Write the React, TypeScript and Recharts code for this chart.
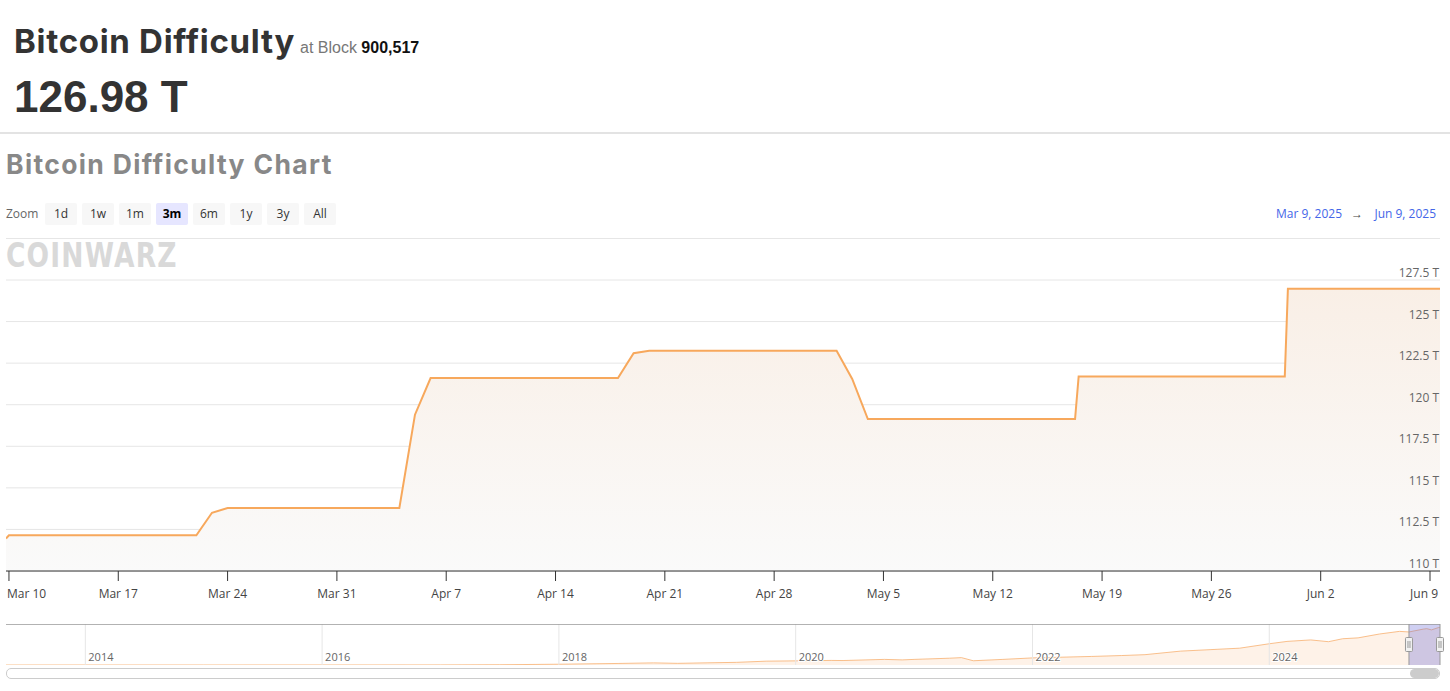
import React from 'react';
import { AreaChart, Area, XAxis, YAxis, CartesianGrid, ReferenceLine, ReferenceArea } from 'recharts';

// ---- Main chart data (days since Mar 9, 2025 00:00) ----
const DAYS = [0.81, 1, 13, 14, 15, 26, 27, 28, 40, 41, 42, 54, 55, 56, 69.27, 69.5, 82.7, 82.9, 92.64];
const DIFFICULTY_T = [111.95, 112.15, 112.15, 113.5, 113.79, 113.79, 119.4, 121.6, 121.6, 123.1, 123.25, 123.25, 121.55, 119.14, 119.14, 121.7, 121.7, 126.98, 126.98];
const X_DOMAIN = [0.81, 92.64];
const X_TICK_DAYS = [1, 8, 15, 22, 29, 36, 43, 50, 57, 64, 71, 78, 85, 92];
const X_TICK_LABELS = ['Mar 10', 'Mar 17', 'Mar 24', 'Mar 31', 'Apr 7', 'Apr 14', 'Apr 21', 'Apr 28', 'May 5', 'May 12', 'May 19', 'May 26', 'Jun 2', 'Jun 9'];
const Y_TICKS = [110, 112.5, 115, 117.5, 120, 122.5, 125, 127.5];

// ---- Navigator data (fractional years) ----
const NAV_YEARS = [2013.33, 2014.0, 2015.0, 2016.0, 2017.0, 2017.5, 2018.0, 2018.5, 2018.8, 2019.0, 2019.5, 2019.75, 2020.0, 2020.3, 2020.4, 2020.75, 2020.9, 2021.0, 2021.3, 2021.4, 2021.5, 2021.75, 2022.0, 2022.3, 2022.5, 2022.75, 2022.95, 2023.25, 2023.5, 2023.75, 2024.0, 2024.15, 2024.35, 2024.5, 2024.62, 2024.75, 2024.93, 2025.1, 2025.18, 2025.3, 2025.33, 2025.37, 2025.43, 2025.442];
const NAV_DIFFICULTY_T = [0, 0.002, 0.04, 0.1, 0.3, 0.9, 2.6, 5.2, 7.2, 5.6, 9, 13, 14, 15.5, 15.1, 19, 17.3, 19, 23, 25, 14.4, 19, 24, 27, 29, 32, 35, 47, 52, 57, 72, 80, 85, 79, 89, 92, 105, 114, 112, 121.6, 123.2, 119, 127, 127];
const NAV_DOMAIN = [2013.33, 2025.442];
const NAV_YEAR_TICKS = [2014, 2016, 2018, 2020, 2022, 2024];
const RANGE_START_YEAR = 2025.18;
const RANGE_END_YEAR = 2025.442;

const ZOOM_BUTTONS = ['1d', '1w', '1m', '3m', '6m', '1y', '3y', 'All'];
const SELECTED_ZOOM = '3m';

const mainData = DAYS.map((d, i) => ({ day: d, value: DIFFICULTY_T[i] }));
const navData = NAV_YEARS.map((y, i) => ({ year: y, value: NAV_DIFFICULTY_T[i] }));

const W = 1450;
const UI_FONT = '"Open Sans", "Noto Sans", sans-serif';
const TITLE_FONT = 'Inter, "Noto Sans", sans-serif';
const ARIAL = '"Liberation Sans", Arial, sans-serif';
const MAIN_MARGIN = { top: 40, right: 9, bottom: 0, left: 6 };
const PLOT_RIGHT = 1440;

const XTick = (props: any) => {
  const { x, y, payload } = props;
  const idx = X_TICK_DAYS.indexOf(payload.value);
  const label = idx >= 0 ? X_TICK_LABELS[idx] : '';
  let anchor: any = 'middle';
  let tx = x;
  if (idx === 0) { anchor = 'start'; tx = x - 2; }
  if (idx === X_TICK_DAYS.length - 1) { anchor = 'end'; tx = x + 8; }
  return (
    <text x={tx} y={y} dy="0.71em" textAnchor={anchor} fill="#444" fontSize={12} fontFamily={UI_FONT}>
      {label}
    </text>
  );
};

const YTick = (props: any) => {
  const { y, payload } = props;
  return (
    <text x={PLOT_RIGHT - 1} y={y - 3} textAnchor="end" fill="#666" fontSize={12} fontFamily={UI_FONT}>
      {`${payload.value} T`}
    </text>
  );
};

const yearLabel = (label: string) => (props: any) => {
  const vb = props.viewBox || {};
  return (
    <text
      x={vb.x + 3}
      y={vb.y + vb.height - 4}
      fill="#666"
      fontSize={11}
      fontFamily={UI_FONT}
      stroke="#fff"
      strokeWidth={2}
      paintOrder="stroke"
    >
      {label}
    </text>
  );
};

const handleLabel = (props: any) => {
  const vb = props.viewBox || {};
  const cx = vb.x;
  const cy = vb.y + vb.height / 2;
  return (
    <g>
      <rect x={cx - 3.5} y={cy - 7} width={7} height={14} fill="#f2f2f2" stroke="#999" strokeWidth={1} rx={1} />
      <line x1={cx - 1} y1={cy - 3.5} x2={cx - 1} y2={cy + 3.5} stroke="#999" strokeWidth={1} />
      <line x1={cx + 1} y1={cy - 3.5} x2={cx + 1} y2={cy + 3.5} stroke="#999" strokeWidth={1} />
    </g>
  );
};

export default function App() {
  return (
    <div style={{ position: 'absolute', left: 0, top: 0, width: W, height: 691, background: '#fff', overflow: 'hidden' }}>
      {/* Header */}
      <svg width={W} height={280} style={{ position: 'absolute', left: 0, top: 0 }}>
        <text x={14} y={53} fontFamily={TITLE_FONT} fontWeight={700} fontSize={33} fill="#333" letterSpacing={0.7}>
          Bitcoin Difficulty
        </text>
        <text x={300} y={53} fontFamily={ARIAL} fontSize={16}>
          <tspan fill="#777">at Block </tspan>
          <tspan fill="#111" fontWeight={700}>900,517</tspan>
        </text>
        <text x={14} y={112} fontFamily={ARIAL} fontWeight={700} fontSize={44} fill="#333">
          126.98 T
        </text>
        <rect x={0} y={132} width={W} height={2} fill="#e3e3e3" />
        <text x={6} y={174} fontFamily={TITLE_FONT} fontWeight={700} fontSize={26.5} fill="#888" letterSpacing={1.35}>
          Bitcoin Difficulty Chart
        </text>
        <text x={6} y={218} fontFamily={UI_FONT} fontSize={12} fill="#666">Zoom</text>
        {ZOOM_BUTTONS.map((b, i) => {
          const bx = 45 + i * 37;
          const sel = b === SELECTED_ZOOM;
          return (
            <g key={b}>
              <rect x={bx} y={203} width={32} height={22} rx={2} fill={sel ? '#e6e6ff' : '#f7f7f7'} />
              <text x={bx + 16} y={218} textAnchor="middle" fontFamily={UI_FONT} fontSize={12} fontWeight={sel ? 700 : 400} fill={sel ? '#000' : '#333'}>
                {b}
              </text>
            </g>
          );
        })}
        <text x={1276} y={218} fontFamily={UI_FONT} fontSize={12} fill="#4466e8">Mar 9, 2025</text>
        <text x={1357} y={218} textAnchor="middle" fontFamily={UI_FONT} fontSize={12} fill="#444">→</text>
        <text x={1436} y={218} textAnchor="end" fontFamily={UI_FONT} fontSize={12} fill="#4466e8">Jun 9, 2025</text>
        <rect x={6} y={238} width={1434} height={1} fill="#e6e6e6" />
        <text
          x={6}
          y={267}
          fontFamily='"DejaVu Sans", sans-serif'
          fontWeight={900}
          fontSize={34}
          fill="#d9d9d9"
          transform="translate(6,0) scale(0.78,1) translate(-6,0)"
          letterSpacing={1.5}
        >
          COINWARZ
        </text>
      </svg>

      {/* Main chart */}
      <div style={{ position: 'absolute', left: 0, top: 240 }}>
        <AreaChart width={W} height={370} data={mainData} margin={MAIN_MARGIN}>
          <defs>
            <linearGradient id="mainFill" x1="0" y1="0" x2="0" y2="1">
              <stop offset="0%" stopColor="#f9efe6" stopOpacity={1} />
              <stop offset="100%" stopColor="#fafafa" stopOpacity={1} />
            </linearGradient>
          </defs>
          <CartesianGrid vertical={false} stroke="#e6e6e6" />
          <XAxis
            type="number"
            dataKey="day"
            domain={X_DOMAIN}
            ticks={X_TICK_DAYS}
            interval={0}
            allowDataOverflow
            height={39}
            tickSize={10}
            tickMargin={8}
            axisLine={{ stroke: '#333' }}
            tickLine={{ stroke: '#333' }}
            tick={<XTick />}
          />
          <YAxis
            orientation="right"
            width={1}
            domain={[110, 127.5]}
            ticks={Y_TICKS}
            interval={0}
            allowDataOverflow
            axisLine={false}
            tickLine={false}
            tick={<YTick />}
          />
          <Area
            type="linear"
            dataKey="value"
            stroke="#f7a85c"
            strokeWidth={2}
            fill="url(#mainFill)"
            fillOpacity={1}
            dot={false}
            activeDot={false}
            isAnimationActive={false}
          />
        </AreaChart>
      </div>

      {/* Navigator */}
      <div style={{ position: 'absolute', left: 0, top: 624 }}>
        <AreaChart width={W} height={41} data={navData} margin={{ top: 0, right: 10, bottom: 0, left: 6 }}>
          <XAxis type="number" dataKey="year" domain={NAV_DOMAIN} hide allowDataOverflow />
          <YAxis domain={[0, 139]} hide allowDataOverflow />
          {NAV_YEAR_TICKS.map((yr) => (
            <ReferenceLine key={yr} x={yr} stroke="#e6e6e6" label={yearLabel(String(yr))} />
          ))}
          <Area
            type="linear"
            dataKey="value"
            stroke="#f7b070"
            strokeOpacity={0.8}
            strokeWidth={1}
            fill="#f7a35c"
            fillOpacity={0.14}
            dot={false}
            activeDot={false}
            isAnimationActive={false}
          />
          <ReferenceArea x1={RANGE_START_YEAR} x2={RANGE_END_YEAR} y1={0} y2={139} fill="#6a6ad8" fillOpacity={0.32} stroke="none" />
          <ReferenceLine y={139} stroke="#999" strokeWidth={1.5} />
          <ReferenceLine x={RANGE_START_YEAR} stroke="#999" label={handleLabel} />
          <ReferenceLine x={RANGE_END_YEAR} stroke="#999" label={handleLabel} />
        </AreaChart>
      </div>

      {/* Scrollbar */}
      <div
        style={{
          position: 'absolute',
          left: 6,
          top: 668,
          width: 1432,
          height: 9,
          border: '1px solid #ccc',
          borderRadius: 5,
          background: '#fff',
        }}
      >
        <div style={{ position: 'absolute', right: 0, top: 0, width: 29, height: 9, borderRadius: 5, background: '#ccc' }} />
      </div>
    </div>
  );
}
